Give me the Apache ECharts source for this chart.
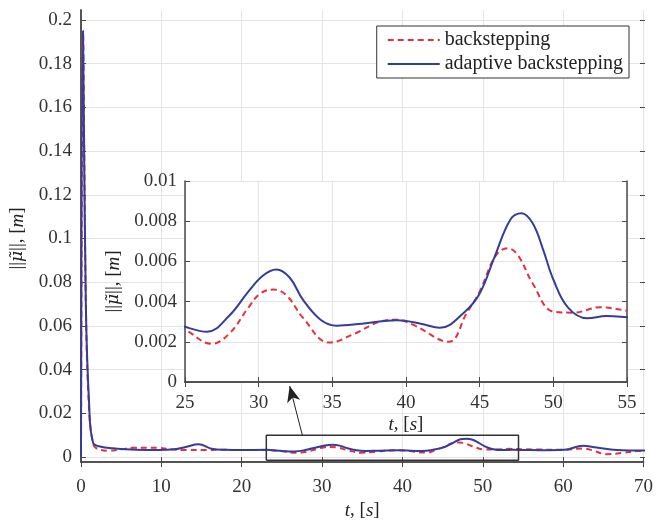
<!DOCTYPE html>
<html>
<head>
<meta charset="utf-8">
<script src="https://cdn.jsdelivr.net/npm/echarts@6/dist/echarts.min.js"></script>
<style>
  html, body { margin: 0; padding: 0; background: #fff; }
  #main { width: 656px; height: 525px; }
</style>
</head>
<body>
<div id="main"></div>
<script>
// adaptive backstepping (solid blue)
var tBlue = [0, 0.25, 0.6, 1.0, 1.5, 2.5, 4, 5.5, 8, 9.6, 11.6, 13, 14.6, 16.2, 18, 20, 23,
  25, 26.5, 28, 29.3, 30.3, 31.2, 32.1, 33, 34.2, 35.3, 37, 39.4, 41, 42.3, 44, 45, 46, 47.1, 47.85, 48.6, 49.3, 50, 51, 52.3, 53.6, 55,
  57, 60, 62.3, 64, 66.5, 68, 70];
var blueVals = [0, 0.195, 0.07, 0.025, 0.0065, 0.0047, 0.004, 0.0035, 0.0032, 0.0032, 0.0035, 0.0046, 0.0058, 0.0038, 0.0033, 0.0032, 0.0033,
  0.00275, 0.0025, 0.0033, 0.0045, 0.0053, 0.0056, 0.0052, 0.0041, 0.0031, 0.0028, 0.0029, 0.00307, 0.0029, 0.0027, 0.0035, 0.0044, 0.0062, 0.0081, 0.0084, 0.0079, 0.0066, 0.0051, 0.0037, 0.00317, 0.00328, 0.00322,
  0.0031, 0.0033, 0.0051, 0.0043, 0.0032, 0.003, 0.003];

// backstepping (dashed red)
var tRed = [0, 0.25, 0.6, 1.0, 1.5, 1.9, 3.4, 5, 6.5, 9.6, 11, 13.2, 15.6, 17, 20, 23,
  25, 26.8, 28, 29.3, 30.1, 31.0, 31.9, 33, 34.8, 36.5, 38.2, 39.4, 40.5, 42.9, 44.1, 45, 46.1, 46.9, 47.6, 48.6, 50, 51.35, 53.2, 55,
  57, 60, 62.3, 63.5, 65.2, 67.3, 69, 70];
var redVals = [0, 0.195, 0.07, 0.022, 0.006, 0.004, 0.0029, 0.0035, 0.0042, 0.0042, 0.0036, 0.0032, 0.0032, 0.0033, 0.0032, 0.0032,
  0.0026, 0.0019, 0.0024, 0.0037, 0.0044, 0.0046, 0.0043, 0.0032, 0.00196, 0.0024, 0.003, 0.0031, 0.00284, 0.002, 0.0034, 0.0045, 0.0063, 0.00665, 0.0063, 0.0049, 0.0035, 0.00345, 0.00372, 0.00355,
  0.0034, 0.0033, 0.0039, 0.003, 0.0013, 0.0019, 0.0027, 0.0028];

var mainYTicks = [0, 0.02, 0.04, 0.06, 0.08, 0.1, 0.12, 0.14, 0.16, 0.18, 0.2];
var insetYTicks = [0, 0.002, 0.004, 0.006, 0.008, 0.01];

// zoom box drawn on the main axes and arrow to the inset
var zoomBoxX = [23, 54.3];
var zoomBoxY = [-0.0015, 0.01];
var arrowFrom = [27.5, 0.0096];
var arrowTo = [25.9, 0.0325];

var blueName = 'adaptive backstepping';
var redName = 'backstepping';
var blue = '#353c9a';
var red = '#e5313c';
var serif = 'Liberation Serif';
var axisCol = '#4a4a4a';
var gridCol = '#e4e4e4';

function pairs(ts, vs) {
  return ts.map(function (t, i) { return [t, vs[i]]; });
}

var rich = {
  n: { fontFamily: serif, fontSize: 19, color: '#222' },
  i: { fontFamily: serif, fontSize: 19, fontStyle: 'italic', color: '#222' },
  mu: { fontFamily: 'DejaVu Serif', fontSize: 17, fontStyle: 'italic', color: '#222' }
};
var yName = '{n|||}{mu|μ̃}{n|||, [}{i|m}{n|]}';
var tName = '{i|t}{n|, [}{i|s}{n|]}';

var boxData = [
  [zoomBoxX[0], zoomBoxY[0]], [zoomBoxX[1], zoomBoxY[0]],
  [zoomBoxX[1], zoomBoxY[1]], [zoomBoxX[0], zoomBoxY[1]], [zoomBoxX[0], zoomBoxY[0]]
];

var tickLabel = { fontFamily: serif, fontSize: 19, color: '#333' };

var myChart = echarts.init(document.getElementById('main'));

var option = {
  backgroundColor: '#fff',
  animation: false,
  legend: {
    data: [redName, blueName],
    orient: 'vertical',
    right: 27,
    top: 26,
    itemWidth: 52,
    itemHeight: 4,
    itemGap: 4,
    padding: [4, 6, 4, 10],
    borderColor: '#333',
    borderWidth: 1,
    borderRadius: 0,
    backgroundColor: '#fff',
    itemStyle: { opacity: 0 },
    textStyle: { fontFamily: serif, fontSize: 20, color: '#222' }
  },
  grid: [
    // outer frame of the main axes
    { left: 81, right: 11, top: 10, bottom: 57 },
    // data area of the main axes (0 .. 0.2)
    { left: 81, right: 11, top: 20, bottom: 68 },
    // inset
    { left: 185, right: 29, top: 181, bottom: 143, show: true, backgroundColor: '#fff', borderWidth: 0, z: 3 }
  ],
  xAxis: [
    {
      gridIndex: 0, type: 'value', min: 0, max: 70, interval: 10, position: 'bottom',
      axisLine: { show: true, lineStyle: { color: axisCol, width: 1.5 } },
      axisTick: { show: true, inside: true, length: 5, lineStyle: { color: axisCol } },
      axisLabel: Object.assign({ margin: 15 }, tickLabel),
      splitLine: { show: true, lineStyle: { color: gridCol } },
      name: tName, nameLocation: 'middle', nameGap: 36,
      nameTextStyle: { rich: rich }
    },
    {
      gridIndex: 0, type: 'value', min: 0, max: 70, interval: 10, position: 'top',
      axisLine: { show: true, lineStyle: { color: axisCol, width: 1.5 } },
      axisTick: { show: true, inside: true, length: 5, lineStyle: { color: axisCol } },
      axisLabel: { show: false }, splitLine: { show: false }
    },
    { gridIndex: 1, type: 'value', min: 0, max: 70, show: false },
    {
      gridIndex: 2, type: 'value', min: 25, max: 55, interval: 5, position: 'bottom', z: 4,
      axisLine: { show: true, lineStyle: { color: axisCol, width: 1.5 } },
      axisTick: { show: true, inside: true, length: 5, lineStyle: { color: axisCol } },
      axisLabel: Object.assign({ margin: 12 }, tickLabel),
      splitLine: { show: true, lineStyle: { color: gridCol } },
      name: tName, nameLocation: 'middle', nameGap: 33,
      nameTextStyle: { rich: rich }
    },
    {
      gridIndex: 2, type: 'value', min: 25, max: 55, interval: 5, position: 'top', z: 4,
      axisLine: { show: true, lineStyle: { color: axisCol, width: 1.5 } },
      axisTick: { show: true, inside: true, length: 5, lineStyle: { color: axisCol } },
      axisLabel: { show: false }, splitLine: { show: false }
    }
  ],
  yAxis: [
    {
      gridIndex: 0, type: 'value', min: 0, max: 1, position: 'left',
      axisLine: { show: true, lineStyle: { color: axisCol, width: 1.5 } },
      axisTick: { show: false }, axisLabel: { show: false }, splitLine: { show: false }
    },
    {
      gridIndex: 0, type: 'value', min: 0, max: 1, position: 'right',
      axisLine: { show: true, lineStyle: { color: axisCol, width: 1.5 } },
      axisTick: { show: false }, axisLabel: { show: false }, splitLine: { show: false }
    },
    {
      gridIndex: 1, type: 'value', min: mainYTicks[0], max: mainYTicks[mainYTicks.length - 1], interval: 0.02,
      position: 'left',
      axisLine: { show: false },
      axisTick: { show: true, inside: true, length: 5, lineStyle: { color: axisCol } },
      axisLabel: Object.assign({ margin: 9 }, tickLabel),
      splitLine: { show: true, lineStyle: { color: gridCol } },
      name: yName, nameLocation: 'middle', nameGap: 54, nameRotate: 90,
      nameTextStyle: { rich: rich }
    },
    {
      gridIndex: 1, type: 'value', min: mainYTicks[0], max: mainYTicks[mainYTicks.length - 1], interval: 0.02,
      position: 'right',
      axisLine: { show: false },
      axisTick: { show: true, inside: true, length: 5, lineStyle: { color: axisCol } },
      axisLabel: { show: false }, splitLine: { show: false }
    },
    {
      gridIndex: 2, type: 'value', min: insetYTicks[0], max: insetYTicks[insetYTicks.length - 1], interval: 0.002,
      position: 'left', z: 4,
      axisLine: { show: true, lineStyle: { color: axisCol, width: 1.5 } },
      axisTick: { show: true, inside: true, length: 5, lineStyle: { color: axisCol } },
      axisLabel: Object.assign({ margin: 8 }, tickLabel),
      splitLine: { show: true, lineStyle: { color: gridCol } },
      name: yName, nameLocation: 'middle', nameGap: 62, nameRotate: 90,
      nameTextStyle: { rich: rich }
    },
    {
      gridIndex: 2, type: 'value', min: insetYTicks[0], max: insetYTicks[insetYTicks.length - 1], interval: 0.002,
      position: 'right', z: 4,
      axisLine: { show: true, lineStyle: { color: axisCol, width: 1.5 } },
      axisTick: { show: true, inside: true, length: 5, lineStyle: { color: axisCol } },
      axisLabel: { show: false }, splitLine: { show: false }
    }
  ],
  series: [
    {
      name: redName, type: 'line', xAxisIndex: 2, yAxisIndex: 2,
      data: pairs(tRed, redVals), smooth: 0.4, symbol: 'none', clip: false, z: 2,
      lineStyle: { color: red, width: 2, type: [6, 4] }, itemStyle: { color: red }
    },
    {
      name: blueName, type: 'line', xAxisIndex: 2, yAxisIndex: 2,
      data: pairs(tBlue, blueVals), smooth: 0.4, symbol: 'none', clip: false, z: 2,
      lineStyle: { color: blue, width: 2 }, itemStyle: { color: blue }
    },
    {
      name: 'zoom', type: 'line', xAxisIndex: 2, yAxisIndex: 2,
      data: boxData, symbol: 'none', clip: false, z: 3, silent: true,
      lineStyle: { color: '#333', width: 1.5 },
      markLine: {
        silent: true, symbol: ['none', 'arrow'], symbolSize: [10, 16],
        label: { show: false },
        lineStyle: { color: '#222', width: 1, type: 'solid' },
        data: [[{ coord: arrowFrom }, { coord: arrowTo }]]
      }
    },
    {
      name: redName, type: 'line', xAxisIndex: 3, yAxisIndex: 4,
      data: pairs(tRed, redVals), smooth: 0.4, symbol: 'none', z: 5,
      lineStyle: { color: red, width: 2, type: [6, 4] }, itemStyle: { color: red }
    },
    {
      name: blueName, type: 'line', xAxisIndex: 3, yAxisIndex: 4,
      data: pairs(tBlue, blueVals), smooth: 0.4, symbol: 'none', z: 5,
      lineStyle: { color: blue, width: 2 }, itemStyle: { color: blue }
    }
  ]
};

myChart.setOption(option);
</script>
</body>
</html>
